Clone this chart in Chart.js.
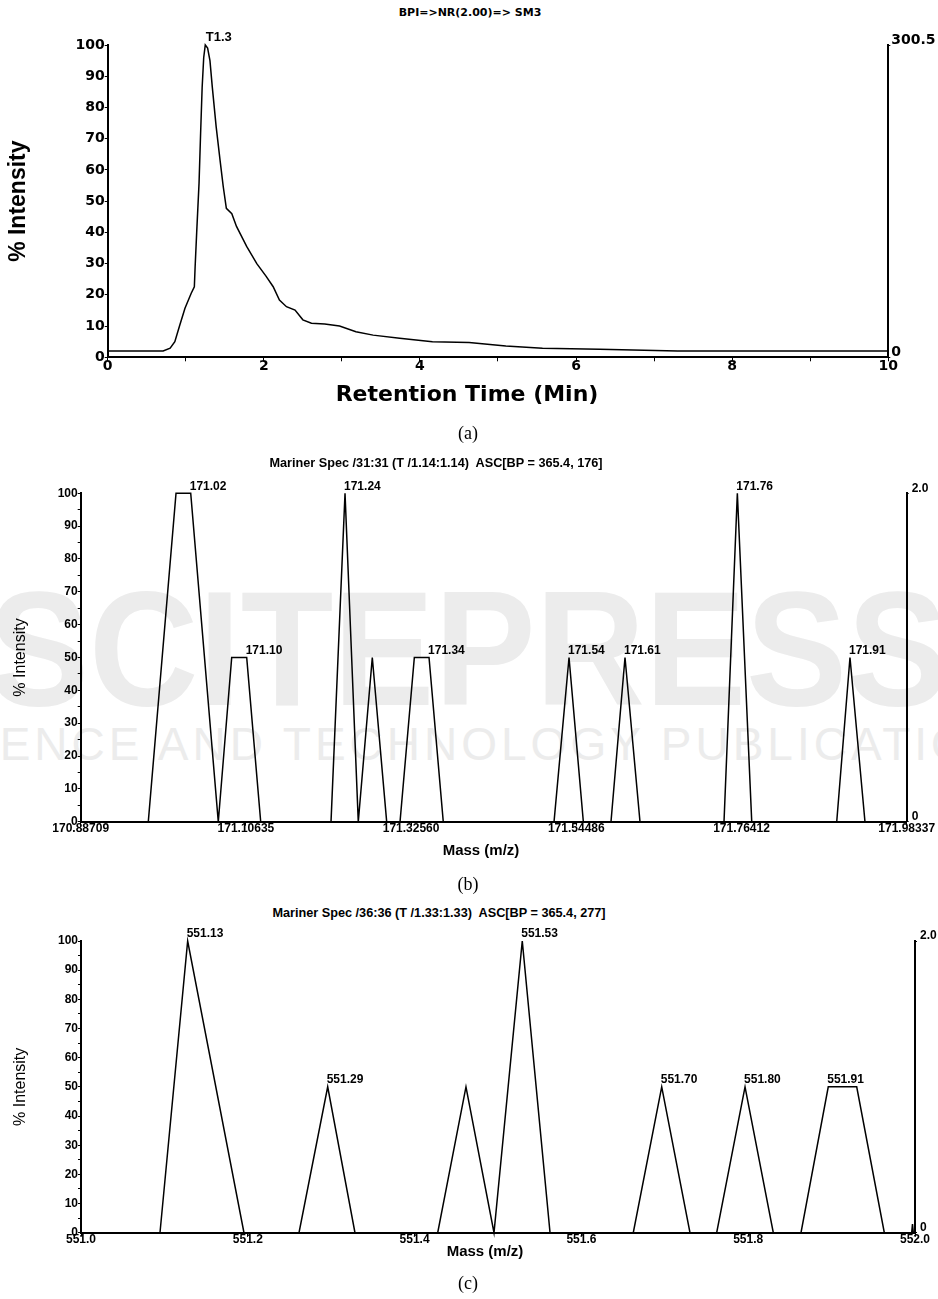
<!DOCTYPE html>
<html>
<head>
<meta charset="utf-8">
<title>BPI chromatogram and Mariner spectra</title>
<script src="https://cdn.jsdelivr.net/npm/chart.js@4.4.1/dist/chart.umd.min.js"></script>
<style>
  body { margin: 0; background: #fff; }
  #page { position: relative; width: 938px; height: 1299px; overflow: hidden; background: #fff; }
  canvas { position: absolute; left: 0; }
  .wm { position: absolute; white-space: nowrap; color: #ececec; line-height: 1;
        font-family: 'Liberation Sans', Arial, sans-serif; transform-origin: left top; }
  .txt { position: absolute; white-space: nowrap; line-height: 1; color: #000;
         transform: translate(-50%, -50%); }
  .cap { font-family: 'Liberation Serif', 'Times New Roman', serif; font-size: 18px; }
  .xt { font-family: 'Liberation Sans', Arial, sans-serif; font-weight: bold; font-size: 15px; }
  .ttl { font-family: 'Liberation Sans', Arial, sans-serif; font-weight: bold; font-size: 12.7px; }
</style>
</head>
<body>
<div id="page">
  <div class="wm" style="left:-12px;top:567px;font-size:163px;font-weight:bold;transform:scaleX(0.93)">SCITEPRESS</div>
  <div class="wm" style="left:-89px;top:721px;font-size:46px;letter-spacing:4px">SCIENCE AND TECHNOLOGY PUBLICATIONS</div>

  <div class="txt" style="left:470px;top:12px;font:bold 11px 'DejaVu Sans', Verdana, sans-serif">BPI=&gt;NR(2.00)=&gt; SM3</div>
  <canvas id="chartA" width="938" height="385" style="top:0px"></canvas>
  <div class="txt" style="left:467px;top:393px;font:bold 22px 'DejaVu Sans', Verdana, sans-serif">Retention Time (Min)</div>
  <div class="txt cap" style="left:468px;top:433px">(a)</div>

  <div class="txt ttl" style="left:436px;top:463px">Mariner Spec /31:31 (T /1.14:1.14)&nbsp; ASC[BP = 365.4, 176]</div>
  <canvas id="chartB" width="938" height="420" style="top:440px"></canvas>
  <div class="txt xt" style="left:481px;top:849px">Mass (m/z)</div>
  <div class="txt cap" style="left:468px;top:884px">(b)</div>

  <div class="txt ttl" style="left:439px;top:913px">Mariner Spec /36:36 (T /1.33:1.33)&nbsp; ASC[BP = 365.4, 277]</div>
  <canvas id="chartC" width="938" height="360" style="top:890px"></canvas>
  <div class="txt xt" style="left:485px;top:1250px">Mass (m/z)</div>
  <div class="txt cap" style="left:468px;top:1283px">(c)</div>
</div>

<script>
// ---- (a) base peak intensity chromatogram ----
const timeA = [0, 0.71, 0.80, 0.86, 0.92, 0.99, 1.07, 1.11, 1.12, 1.14, 1.17,
  1.19, 1.21, 1.23, 1.25, 1.28, 1.31, 1.34, 1.39, 1.44, 1.48,
  1.52, 1.59, 1.65, 1.78, 1.91, 2.03, 2.12, 2.20, 2.29, 2.40,
  2.50, 2.61, 2.78, 2.97, 3.18, 3.40, 3.74, 4.16, 4.63, 5.10,
  5.57, 6.30, 7.30, 10.0];
const intensityA = [2, 2, 2.9, 5, 10, 15.7, 20.5, 22.6, 29, 40, 55.7,
  71.6, 86.5, 96, 100, 99, 95, 86.5, 73.7, 63, 54.7,
  47.7, 46, 41.9, 35.5, 30, 25.9, 22.6, 18.3, 16.2, 15.1,
  12, 10.9, 10.7, 10, 8.2, 7.1, 6.1, 5, 4.7, 3.6,
  2.9, 2.6, 2.0, 2.0];
const peakLabelsA = ['T1.3'];
const peakXA = [1.27];
const peakYA = [100];
const rightMaxA = 300.5;

// ---- (b) Mariner spectrum 31:31 ----
const massB = [170.88709, 170.9768, 171.0136, 171.0331, 171.0697, 171.0875, 171.1074, 171.1260,
  171.2193, 171.2379, 171.2555, 171.2741, 171.2932, 171.3109, 171.3299, 171.3494, 171.3683,
  171.5153, 171.5352, 171.5542, 171.5909, 171.6095, 171.6294, 171.7409, 171.7586, 171.7777,
  171.8905, 171.9081, 171.9280, 171.98337];
const intensityB = [0, 0, 100, 100, 0, 50, 50, 0,
  0, 100, 0, 50, 0, 0, 50, 50, 0,
  0, 50, 0, 0, 50, 0, 0, 100, 0,
  0, 50, 0, 0];
const peakLabelsB = ['171.02', '171.10', '171.24', '171.34', '171.54', '171.61', '171.76', '171.91'];
const peakXB = [171.0331, 171.1074, 171.2379, 171.3494, 171.5352, 171.6095, 171.7586, 171.9081];
const peakYB = [100, 50, 100, 50, 50, 50, 100, 50];
const xTicksB = [170.88709, 171.10635, 171.32560, 171.54486, 171.76412, 171.98337];
const rightMaxB = 2.0;

// ---- (c) Mariner spectrum 36:36 ----
const massC = [551.0, 551.0947, 551.1279, 551.1954, 551.2614, 551.2958, 551.3285,
  551.4277, 551.4616, 551.4952, 551.5291, 551.5624, 551.6622, 551.6963, 551.7302,
  551.7622, 551.7962, 551.8301, 551.8633, 551.8960, 551.9301, 551.9632,
  551.996, 551.997, 551.998, 552.0];
const intensityC = [0, 0, 100, 0, 0, 50, 0,
  0, 50, 0, 100, 0, 0, 50, 0,
  0, 50, 0, 0, 50, 50, 0,
  0, 3, 0, 0];
const peakLabelsC = ['551.13', '551.29', '551.53', '551.70', '551.80', '551.91'];
const peakXC = [551.1279, 551.2958, 551.5291, 551.6963, 551.7962, 551.8960];
const peakYC = [100, 50, 100, 50, 50, 50];
const xTicksC = [551.0, 551.2, 551.4, 551.6, 551.8, 552.0];
const rightMaxC = 2.0;

const SANS = "'Liberation Sans', Arial, sans-serif";
const WIDE = "'DejaVu Sans', Verdana, sans-serif";

// writes the m/z (or time) label just above each peak top
const peakLabelPlugin = {
  id: 'peakLabels',
  afterDatasetsDraw(chart, args, opts) {
    const ctx = chart.ctx;
    const xs = chart.scales.x, ys = chart.scales.y;
    ctx.save();
    ctx.font = opts.font;
    ctx.fillStyle = '#000';
    ctx.textAlign = 'left';
    ctx.textBaseline = 'bottom';
    opts.labels.forEach(function(text, i) {
      ctx.fillText(text, xs.getPixelForValue(opts.xs[i]) - 1, ys.getPixelForValue(opts.ys[i]) - 1);
    });
    ctx.restore();
  }
};

function makeChart(id, c) {
  var points = c.xs.map(function(v, i) { return { x: v, y: c.ys[i] }; });
  var W = 938;
  var tickFont = { family: c.tickFamily, size: c.tickSize, weight: 'bold' };

  var xScale = {
    type: 'linear', min: c.xMin, max: c.xMax,
    afterFit: function(s) { s.height = c.H - c.bottom; },
    border: { display: true, color: '#000', width: 2 },
    grid: { drawOnChartArea: false, color: '#000', tickLength: 4 },
    ticks: { color: '#000', font: tickFont, padding: c.xPad, autoSkip: false, maxRotation: 0,
             callback: c.xLabel }
  };
  if (c.xTicks) {
    xScale.afterBuildTicks = function(s) { s.ticks = c.xTicks.map(function(v) { return { value: v }; }); };
  } else {
    xScale.ticks.stepSize = c.xStep;
  }

  return new Chart(document.getElementById(id), {
    type: 'line',
    data: {
      datasets: [{
        data: points,
        borderColor: '#000',
        borderWidth: 1.5,
        pointRadius: 0,
        tension: 0,
        fill: false,
        clip: false
      }]
    },
    options: {
      responsive: false,
      animation: false,
      events: [],
      layout: { padding: { top: c.top, left: 0, right: 0, bottom: 0 } },
      plugins: {
        legend: { display: false },
        tooltip: { enabled: false },
        title: { display: false },
        peakLabels: { labels: c.peakLabels, xs: c.peakX, ys: c.peakY, font: c.peakFont }
      },
      scales: {
        x: xScale,
        y: {
          type: 'linear', position: 'left', min: 0, max: 100,
          afterFit: function(s) { s.width = c.left; },
          border: { display: true, color: '#000', width: 2 },
          grid: { drawOnChartArea: false, color: '#000', tickLength: 3 },
          ticks: { color: '#000', font: tickFont, padding: 0, autoSkip: false, stepSize: c.yStep,
                   callback: function(v) { return v % 10 === 0 ? String(v) : ''; } },
          title: { display: true, text: '% Intensity', color: '#000', font: c.yTitleFont,
                   padding: { top: c.yTitlePad, bottom: 0 } }
        },
        y2: {
          type: 'linear', position: 'right', display: true, min: 0, max: c.rightMax,
          afterFit: function(s) { s.width = W - c.right; },
          afterBuildTicks: function(s) { s.ticks = [{ value: 0 }, { value: c.rightMax }]; },
          border: { display: true, color: '#000', width: 2 },
          grid: { drawOnChartArea: false, color: '#000', tickLength: 2 },
          ticks: { color: '#000', font: tickFont, padding: c.rightPad, labelOffset: -5,
                   callback: function(v) { return v === 0 ? '0' : c.rightMax.toFixed(1); } }
        }
      }
    },
    plugins: [peakLabelPlugin]
  });
}

// (a)
makeChart('chartA', {
  H: 385, top: 45, bottom: 357.3, left: 107.7, right: 888.3,
  xs: timeA, ys: intensityA, xMin: 0, xMax: 10, xStep: 1, xPad: -3,
  xLabel: function(v) { return v % 2 === 0 ? String(v) : ''; },
  yStep: 10, tickFamily: WIDE, tickSize: 14,
  yTitleFont: { family: SANS, size: 23, weight: 'bold' }, yTitlePad: 4.8,
  rightMax: rightMaxA, rightPad: 1,
  peakLabels: peakLabelsA, peakX: peakXA, peakY: peakYA, peakFont: 'bold 13px ' + SANS
});

// (b)
makeChart('chartB', {
  H: 420, top: 53.3, bottom: 381.7, left: 80.7, right: 906.7,
  xs: massB, ys: intensityB, xMin: xTicksB[0], xMax: xTicksB[xTicksB.length - 1], xTicks: xTicksB, xPad: -4,
  xLabel: function(v) { return v.toFixed(5); },
  yStep: 5, tickFamily: SANS, tickSize: 12,
  yTitleFont: { family: SANS, size: 16 }, yTitlePad: 11.4,
  rightMax: rightMaxB, rightPad: 3,
  peakLabels: peakLabelsB, peakX: peakXB, peakY: peakYB, peakFont: 'bold 12px ' + SANS
});

// (c)
makeChart('chartC', {
  H: 360, top: 51, bottom: 342.7, left: 81, right: 915,
  xs: massC, ys: intensityC, xMin: xTicksC[0], xMax: xTicksC[xTicksC.length - 1], xTicks: xTicksC, xPad: -4,
  xLabel: function(v) { return v.toFixed(1); },
  yStep: 5, tickFamily: SANS, tickSize: 12,
  yTitleFont: { family: SANS, size: 16 }, yTitlePad: 11.4,
  rightMax: rightMaxC, rightPad: 3,
  peakLabels: peakLabelsC, peakX: peakXC, peakY: peakYC, peakFont: 'bold 12px ' + SANS
});
</script>
</body>
</html>
